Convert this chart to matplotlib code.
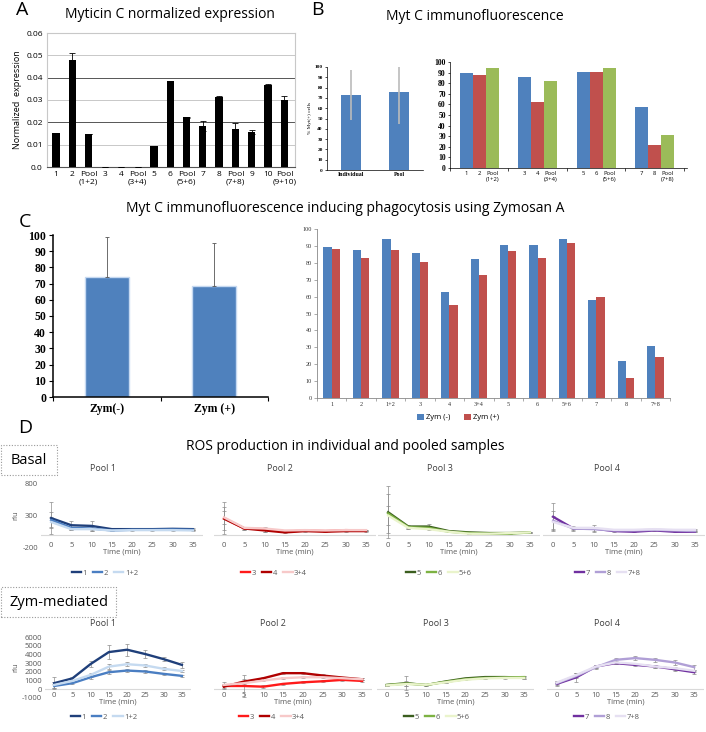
import numpy as np
import matplotlib
matplotlib.use('Agg')
import matplotlib.pyplot as plt
from matplotlib.patches import Rectangle

plt.rcParams['font.family'] = ['Open Sans', 'DejaVu Sans']

# ---- data ----
# A: Myticin C normalized expression
a_labels = ['1', '2', 'Pool\n(1+2)', '3', '4', 'Pool\n(3+4)', '5', '6', 'Pool\n(5+6)',
            '7', '8', 'Pool\n(7+8)', '9', '10', 'Pool\n(9+10)']
a_vals = [0.0153, 0.048, 0.0148, 0.0002, 0.0002, 0.0002, 0.0095, 0.0386, 0.0223,
          0.0184, 0.0313, 0.0170, 0.0157, 0.0367, 0.0300]
a_err = [0, 0.003, 0, 0, 0, 0, 0, 0, 0.0002, 0.0024, 0.0003, 0.0027, 0.0008, 0.0004, 0.002]

# B left: individual vs pool
b_cats = ['Individual', 'Pool']
b_vals = [73, 75.5]
b_err = [24.5, 30.5]

# C: Zymosan A
c_cats = ['1', '2', '1+2', '3', '4', '3+4', '5', '6', '5+6', '7', '8', '7+8']
zym_minus = [89.5, 87.5, 94, 86, 62.5, 82, 90.5, 90.3, 94.3, 58, 22, 31]
zym_plus = [88, 82.7, 87.3, 80.5, 55, 72.8, 87, 83, 91.7, 59.8, 12, 24.3]
c_summary = [74, 68.5]
c_summary_err = [25, 26.5]
c_summary_labels = ['Zym(-)', 'Zym (+)']

# B right: groups of individual + pool (same samples, Zym(-))
b_groups = ['1', '2', 'Pool\n(1+2)', '3', '4', 'Pool\n(3+4)', '5', '6', 'Pool\n(5+6)',
            '7', '8', 'Pool\n(7+8)']

# D: ROS production, time in minutes
t = [0, 5, 10, 15, 20, 25, 30, 35]

basal_p1 = {'1': [260, 150, 140, 90, 90, 90, 95, 90],
            '2': [230, 110, 100, 70, 80, 80, 85, 80],
            '1+2': [200, 90, 90, 70, 75, 75, 75, 70]}
basal_p1_err = {'1': [250, 60, 70, 10, 8, 8, 12, 12],
                '2': [120, 40, 40, 8, 8, 8, 8, 8],
                '1+2': [80, 20, 30, 6, 6, 6, 6, 6]}
basal_p2 = {'3': [260, 100, 90, 50, 70, 60, 75, 70],
            '4': [250, 100, 70, 40, 60, 50, 60, 60],
            '3+4': [270, 110, 100, 70, 75, 70, 75, 75]}
basal_p2_err = {'3': [250, 30, 40, 8, 8, 8, 8, 8],
                '4': [180, 20, 20, 8, 8, 8, 8, 8],
                '3+4': [100, 15, 15, 6, 6, 6, 6, 6]}
basal_p3 = {'5': [350, 130, 130, 60, 40, 30, 30, 40],
            '6': [330, 120, 110, 50, 30, 20, 20, 40],
            '5+6': [300, 110, 90, 50, 20, 20, 30, 40]}
basal_p3_err = {'5': [400, 20, 40, 8, 8, 8, 8, 8],
                '6': [300, 20, 20, 8, 8, 8, 8, 8],
                '5+6': [150, 15, 15, 6, 6, 6, 6, 6]}
basal_p4 = {'7': [280, 100, 100, 60, 50, 70, 50, 50],
            '8': [220, 100, 90, 70, 70, 80, 70, 60],
            '7+8': [200, 110, 110, 80, 80, 90, 80, 80]}
basal_p4_err = {'7': [220, 40, 50, 10, 8, 8, 10, 8],
                '8': [150, 30, 30, 8, 8, 8, 8, 8],
                '7+8': [100, 20, 20, 6, 6, 6, 6, 6]}

zym_p1 = {'1': [700, 1250, 2900, 4270, 4540, 4040, 3460, 2800],
          '2': [380, 700, 1380, 1960, 2150, 2040, 1770, 1540],
          '1+2': [500, 960, 1650, 2600, 2880, 2730, 2350, 2100]}
zym_p1_err = {'1': [700, 200, 400, 850, 700, 500, 250, 350],
              '2': [200, 150, 150, 200, 200, 150, 100, 100],
              '1+2': [300, 150, 200, 250, 200, 200, 150, 150]}
zym_p2 = {'3': [380, 380, 300, 620, 800, 920, 1080, 960],
          '4': [300, 880, 1270, 1850, 1850, 1580, 1350, 1150],
          '3+4': [500, 700, 1000, 1270, 1380, 1380, 1270, 1150]}
zym_p2_err = {'3': [400, 1300, 150, 100, 100, 100, 100, 100],
              '4': [200, 300, 150, 150, 150, 150, 100, 100],
              '3+4': [150, 200, 100, 100, 100, 100, 100, 100]}
zym_p3 = {'5': [500, 700, 480, 900, 1250, 1400, 1400, 1350],
          '6': [480, 650, 500, 850, 1150, 1300, 1350, 1400],
          '5+6': [450, 600, 520, 800, 1100, 1250, 1300, 1300]}
zym_p3_err = {'5': [100, 800, 100, 100, 100, 100, 100, 200],
              '6': [100, 300, 100, 100, 100, 100, 100, 150],
              '5+6': [80, 200, 80, 80, 80, 80, 80, 100]}
zym_p4 = {'7': [620, 1380, 2620, 3000, 2800, 2620, 2300, 1960],
          '8': [700, 1540, 2540, 3380, 3580, 3380, 3080, 2540],
          '7+8': [770, 1650, 2620, 3080, 2920, 2620, 2420, 2120]}
zym_p4_err = {'7': [200, 500, 200, 150, 150, 150, 150, 150],
              '8': [200, 300, 200, 200, 250, 250, 250, 300],
              '7+8': [150, 200, 150, 150, 150, 150, 150, 150]}

pool_colors = [['#1F3F7A', '#4A7EC2', '#C5DAF0'],
               ['#FF1A1A', '#B00000', '#F7C9C9'],
               ['#3B5E1E', '#7DB243', '#EAF4CC'],
               ['#7030A0', '#B09FD6', '#E6E0F2']]

W, H = 706, 732
fig = plt.figure(figsize=(W / 100, H / 100), dpi=100)


def box(l, t_, r, b):
    return fig.add_axes([l / W, 1 - b / H, (r - l) / W, (b - t_) / H])


def ftext(x, y, s, **kw):
    fig.text(x / W, 1 - y / H, s, ha=kw.pop('ha', 'center'), va=kw.pop('va', 'center'), **kw)


serif = 'Liberation Serif'
blue, red, green = '#4F81BD', '#C0504D', '#9BBB59'

# ---- panel A ----
ftext(22, 10, 'A', fontsize=14)
ftext(170, 15, 'Myticin C normalized expression', fontsize=10)
ax = box(47, 33, 295, 167)
x = np.arange(len(a_vals))
ax.bar(x, a_vals, 0.45, color='black', yerr=a_err, capsize=2,
       error_kw=dict(elinewidth=0.6, capthick=0.6), zorder=3)
for v in [0.01, 0.02, 0.03, 0.04, 0.05]:
    ax.axhline(v, color='#555555' if v in (0.02, 0.04) else '#C8C8C8', lw=0.7, zorder=1)
ax.set_xlim(-0.55, 14.65)
ax.set_ylim(0, 0.06)
ax.set_yticks([0, 0.01, 0.02, 0.03, 0.04, 0.05, 0.06])
ax.set_yticklabels(['0.0', '0.01', '0.02', '0.03', '0.04', '0.05', '0.06'], fontsize=6)
ax.set_xticks(x)
ax.set_xticklabels(a_labels, fontsize=6, linespacing=1.1)
ax.tick_params(length=0, pad=3)
ax.set_ylabel('Normalized  expression', fontsize=6.5, labelpad=3)
for s in ['top', 'right', 'left']:
    ax.spines[s].set_color('#C8C8C8')
ax.spines['bottom'].set_color('#555555')

# ---- panel B ----
ftext(317, 10, 'B', fontsize=14)
ftext(475, 17, 'Myt C immunofluorescence', fontsize=10)
ax = box(327, 67, 423, 170)
ax.bar([0, 1], b_vals, 0.4, color=blue, yerr=b_err, ecolor='#BBBBBB',
       error_kw=dict(elinewidth=1.2))
ax.set_xlim(-0.5, 1.5)
ax.set_ylim(0, 100)
ax.set_yticks(range(0, 101, 10))
ax.set_yticklabels([str(v) for v in range(0, 101, 10)], fontsize=3.8, family=serif, weight='bold')
ax.set_xticks([0, 1])
ax.set_xticklabels(b_cats, fontsize=4.2, family=serif, weight='bold')
ax.tick_params(length=1.5, width=0.5, pad=1.5)
ax.tick_params(axis='x', length=0)
ax.set_ylabel('% Myt(+) cells', fontsize=3.8, family=serif, labelpad=2)
for s in ['top', 'right']:
    ax.spines[s].set_visible(False)
for s in ['left', 'bottom']:
    ax.spines[s].set_linewidth(0.5)

ax = box(450, 62, 687, 168)
gpos = np.array([g * 4.5 for g in range(4)])
ax.bar(gpos, zym_minus[0::3], 1, color=blue)
ax.bar(gpos + 1, zym_minus[1::3], 1, color=red)
ax.bar(gpos + 2, zym_minus[2::3], 1, color=green)
ax.set_xlim(-1.23, 17)
ax.set_ylim(0, 100)
ax.set_yticks(range(0, 101, 10))
ax.set_yticklabels([str(v) for v in range(0, 101, 10)], fontsize=5.5, family=serif, weight='bold')
ax.set_xticks(np.sort(np.concatenate([gpos + j for j in range(3)])))
ax.set_xticklabels(b_groups, fontsize=4.2, linespacing=1.2)
ax.set_xticks(np.arange(5) * 4.5 - 1.25, minor=True)
ax.tick_params(axis='x', which='major', length=0, pad=2)
ax.tick_params(axis='x', which='minor', length=2, width=0.5)
ax.tick_params(axis='y', length=1.5, width=0.5, pad=1.5)
for s in ['top', 'right']:
    ax.spines[s].set_visible(False)
for s in ['left', 'bottom']:
    ax.spines[s].set_linewidth(0.5)

# ---- panel C ----
ftext(25, 222, 'C', fontsize=14)
ftext(345, 208, 'Myt C immunofluorescence inducing phagocytosis using Zymosan A', fontsize=10)
ax = box(53, 235, 268, 397)
ax.bar([0, 1], c_summary, 0.41, color=blue, edgecolor='#C6D9F1', lw=1,
       yerr=[[0, 0], c_summary_err], ecolor='#555555', capsize=1.5,
       error_kw=dict(elinewidth=0.6, capthick=0.6))
ax.set_xlim(-0.5, 1.5)
ax.set_ylim(0, 100)
ax.set_yticks(range(0, 101, 10))
ax.set_yticklabels([str(v) for v in range(0, 101, 10)], fontsize=8.5, family=serif, weight='bold')
ax.set_xticks([0, 1])
ax.set_xticklabels(c_summary_labels, fontsize=8.5, family=serif, weight='bold')
ax.set_xticks([-0.5, 0.5, 1.5], minor=True)
ax.tick_params(axis='x', which='major', length=0, pad=4)
ax.tick_params(axis='x', which='minor', length=3, width=0.8)
ax.tick_params(axis='y', length=3, width=0.8, pad=2)
for s in ['top', 'right']:
    ax.spines[s].set_visible(False)
for s in ['left', 'bottom']:
    ax.spines[s].set_linewidth(1.1)

ax = box(317, 229, 670, 398)
xc = np.arange(len(c_cats))
ax.bar(xc - 0.14, zym_minus, 0.28, color=blue, label='Zym (-)')
ax.bar(xc + 0.14, zym_plus, 0.28, color=red, label='Zym (+)')
ax.set_xlim(-0.5, len(c_cats) - 0.5)
ax.set_ylim(0, 100)
ax.set_yticks(range(0, 101, 10))
ax.set_yticklabels([str(v) for v in range(0, 101, 10)], fontsize=4.5, family=serif, color='#333333')
ax.set_xticks(xc)
ax.set_xticklabels(c_cats, fontsize=4.5, family=serif, color='#333333')
ax.set_xticks(np.arange(len(c_cats) + 1) - 0.5, minor=True)
ax.tick_params(axis='x', which='major', length=0, pad=3)
ax.tick_params(axis='x', which='minor', length=2, width=0.5, color='#888888')
ax.tick_params(axis='y', length=2, width=0.5, color='#888888', pad=1.5)
for s in ['top', 'right']:
    ax.spines[s].set_visible(False)
for s in ['left', 'bottom']:
    ax.spines[s].set_color('#888888')
    ax.spines[s].set_linewidth(0.6)
ax.legend(loc='center', bbox_to_anchor=(0.40, -0.115), ncol=2, frameon=False,
          fontsize=5.5, handlelength=0.9, handleheight=0.9, handletextpad=0.3,
          columnspacing=1.8)

# ---- panel D ----
ftext(25, 428, 'D', fontsize=14)
ftext(345, 446, 'ROS production in individual and pooled samples', fontsize=10)

for (bx, by, bw, bh, label) in [(1, 445, 56, 30, 'Basal'), (1, 587, 115, 30, 'Zym-mediated')]:
    fig.patches.append(Rectangle((bx / W, 1 - (by + bh) / H), bw / W, bh / H, fill=False,
                                 ls=(0, (1, 1.5)), ec='#999999', lw=0.8,
                                 transform=fig.transFigure))
    ftext(bx + bw / 2, by + bh / 2, label, fontsize=10.5)

basal_data = [(basal_p1, basal_p1_err), (basal_p2, basal_p2_err),
              (basal_p3, basal_p3_err), (basal_p4, basal_p4_err)]
zym_data = [(zym_p1, zym_p1_err), (zym_p2, zym_p2_err),
            (zym_p3, zym_p3_err), (zym_p4, zym_p4_err)]

basal_boxes = [(41, 203), (214, 376), (378, 540), (543, 705)]
zym_boxes = [(45, 191), (214, 372), (377, 534), (547, 704)]
basal_title_x = [103, 280, 440, 607]
zym_title_x = [103, 273, 436, 607]
basal_leg_x = [105, 274, 439, 608]
zym_leg_x = [104, 272, 437, 607]

rows = [
    dict(data=basal_data, boxes=basal_boxes, top=483, bottom=548, ylim=(-200, 800),
         yticks=[-200, 300, 800], title_y=468, title_x=basal_title_x,
         leg_y=573, leg_x=basal_leg_x),
    dict(data=zym_data, boxes=zym_boxes, top=637, bottom=698, ylim=(-1000, 6000),
         yticks=list(range(-1000, 6001, 1000)), title_y=623, title_x=zym_title_x,
         leg_y=717, leg_x=zym_leg_x),
]

for row in rows:
    for i, ((series, errs), (l, r)) in enumerate(zip(row['data'], row['boxes'])):
        ax = box(l, row['top'], r, row['bottom'])
        handles = []
        for j, name in enumerate(series):
            ax.errorbar(t, series[name], yerr=errs[name], fmt='none', ecolor='#8C8C8C',
                        elinewidth=0.5, capsize=1.2, capthick=0.5, zorder=2)
            h, = ax.plot(t, series[name], color=pool_colors[i][j], lw=1.7, label=name, zorder=3)
            handles.append(h)
        ax.axhline(0, color='#D9D9D9', lw=0.8, zorder=1)
        ax.set_xlim(-2.5, 37.5)
        ax.set_ylim(*row['ylim'])
        ax.set_xticks(t)
        ax.set_xticklabels([str(v) for v in t], fontsize=5.5, color='#595959')
        ax.tick_params(axis='x', length=0, pad=-4)
        ax.set_xlabel('Time (min)', fontsize=5.5, color='#595959', labelpad=-1)
        if i == 0:
            ax.set_yticks(row['yticks'])
            ax.set_yticklabels([str(v) for v in row['yticks']], fontsize=5.5, color='#595959')
            ax.tick_params(axis='y', length=0, pad=2)
            ax.set_ylabel('rlu', fontsize=5.5, color='#595959', labelpad=2)
        else:
            ax.set_yticks([])
        for s in ax.spines.values():
            s.set_visible(False)
        ax.patch.set_alpha(0)
        ftext(row['title_x'][i], row['title_y'], 'Pool %d' % (i + 1), fontsize=6.5, color='#404040')
        ax.legend(handles=handles, loc='center',
                  bbox_to_anchor=(row['leg_x'][i] / W, 1 - row['leg_y'] / H),
                  bbox_transform=fig.transFigure, ncol=3, frameon=False, fontsize=5.5,
                  handlelength=1.2, handletextpad=0.2, columnspacing=0.8,
                  labelcolor='#595959')

fig.savefig('out.png', dpi=100)
